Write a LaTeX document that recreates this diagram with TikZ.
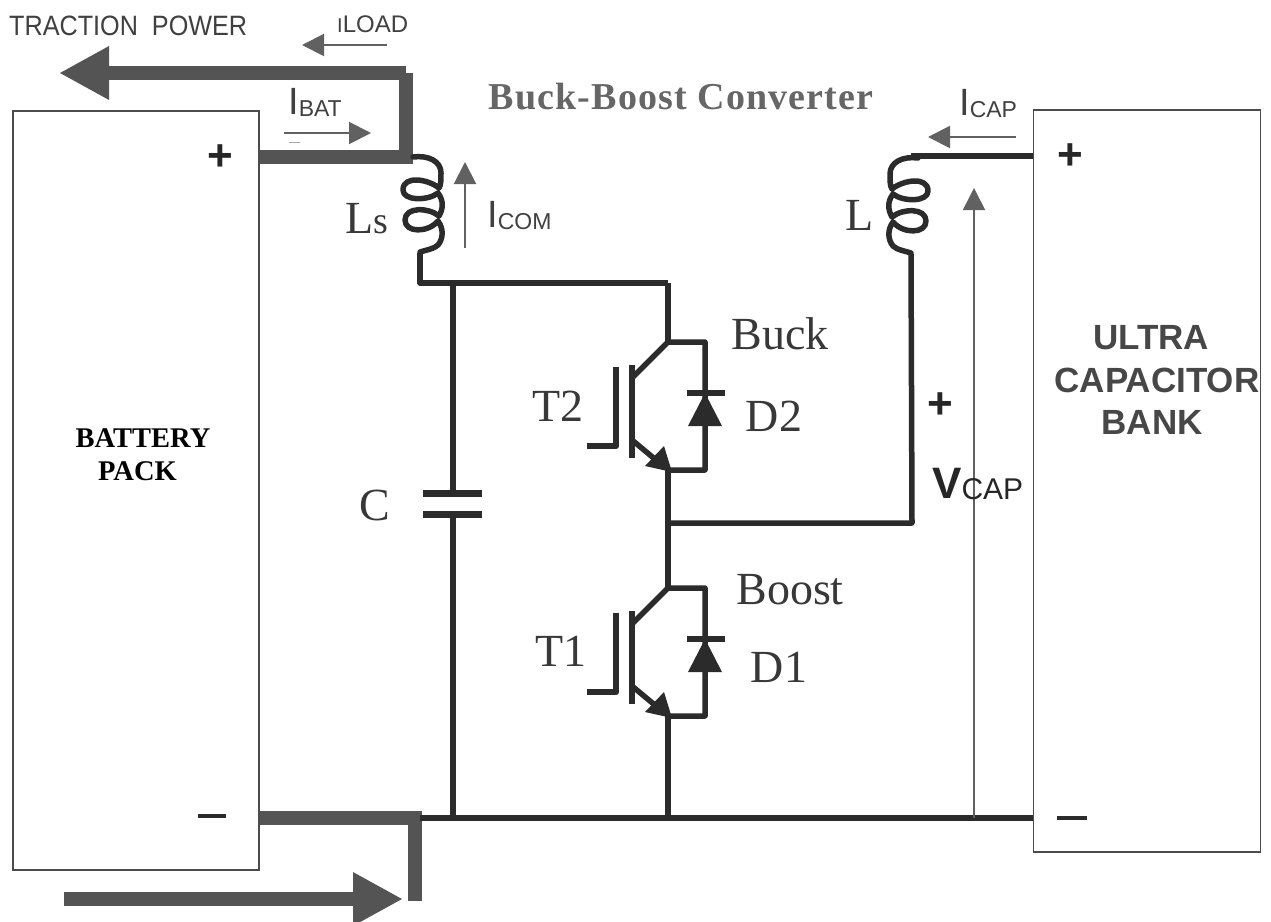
\documentclass[tikz,border=0pt]{standalone}
\usepackage{fontspec}
\setmainfont{Liberation Serif}
\setsansfont{Liberation Sans}
\usetikzlibrary{arrows.meta}
\definecolor{heavy}{gray}{0.33}
\definecolor{thin}{gray}{0.38}
\definecolor{wire}{gray}{0.17}
\newcommand{\fsz}[1]{\fontsize{#1}{#1}\selectfont}
\newcommand{\sublbl}[2]{{\fsz{38}#1}\raisebox{-2pt}{\fsz{23}#2}}
\tikzset{
  wireline/.style={draw=wire,line width=5.5pt,line join=round},
  boxnode/.style={draw=black!70,line width=1.1pt,fill=white,inner sep=0pt},
  heavyline/.style={draw=heavy,line width=14.5pt,line join=miter},
  bigarrow/.style={heavyline,-{Triangle[length=50pt,width=50pt]}},
  smallarrow/.style={draw=thin,line width=2pt,-{Triangle[length=22pt,width=22pt]}},
  serif/.style={text=black!78,font=\rmfamily\fsz{46},inner sep=0pt},
  sanslbl/.style={text=black!75,font=\sffamily,inner sep=0pt,anchor=base west},
  symb/.style={text=black!85,font=\sffamily\bfseries\fsz{44},inner sep=0pt},
  coilpath/.pic={
    \draw[wire,line width=5.5pt,line join=round,line cap=round]
      (-7,-96) .. controls (8,-98) and (21,-92) .. (21,-80)
      .. controls (21,-73) and (21,-68) .. (19,-65)
      .. controls (8,-74) and (-17,-78) .. (-17,-63)
      .. controls (-17,-52) and (8,-52) .. (18,-60)
      .. controls (24,-52) and (23,-44) .. (19,-37)
      .. controls (8,-46) and (-15,-46) .. (-15,-33)
      .. controls (-15,-20) and (8,-20) .. (18,-32)
      .. controls (24,-24) and (23,-14) .. (18,-8)
      .. controls (14,-4) and (6,-3) .. (0,-1);
  },
  igbt/.pic={
    \coordinate (-c) at (0,0);
    \coordinate (-e) at (0,128);
    \draw[wireline] (-36,23) -- (-36,116);
    \draw[wireline] (-36,36) -- (0,0) -- (37,0) -- (37,128) -- (0,128);
    \draw[wireline] (-36,98) -- (-12,118);
    \fill[wire] (-4,104) -- (-23,124) -- (4,130) -- cycle;
    \draw[wireline,line width=6.5pt] (-52,25) -- (-52,104) -- (-81,104);
    \draw[wireline] (19,51) -- (57,51);
    \fill[wire] (37,51) -- (20,84) -- (54,84) -- cycle;
  }
}
\begin{document}
\begin{tikzpicture}[x=1pt,y=-1pt]
\path[use as bounding box,fill=white] (0,0) rectangle (1271,921);

% boxes
\node[boxnode,minimum width=246pt,minimum height=759pt] (bat) at (136,490.5) {};
\node[boxnode,minimum width=227pt,minimum height=742pt] (cap) at (1147,481) {};

% coordinates
\coordinate (batp) at (bat.east |- 0,157);
\coordinate (batm) at (bat.east |- 0,818);
\coordinate (capp) at (cap.west |- 0,156);
\coordinate (capm) at (cap.west |- 0,818);
\coordinate (lsT) at (406,157);
\coordinate (lsB) at (420,253);
\coordinate (lT) at (911,156);
\coordinate (lB) at (911,254);
\coordinate (top) at (420,283);
\coordinate (bot) at (420,818);
\coordinate (busC) at (453,283);
\coordinate (gndC) at (453,818);
\coordinate (busT) at (668,283);
\coordinate (gndT) at (668,818);
\coordinate (capA) at (453,493);
\coordinate (capB) at (453,514);
\coordinate (capAl) at (423,493);
\coordinate (capAr) at (482,493);
\coordinate (capBl) at (423,514);
\coordinate (capBr) at (482,514);
\coordinate (mid) at (668,523);
\coordinate (midR) at (912,523);

% heavy power paths
\coordinate (loadC) at (406,73);
\coordinate (loadE) at (59,73);
\draw[heavyline] (batp) -- (lsT) -- (loadC);
\draw[bigarrow] (loadC) -- (loadE);
\coordinate (retC) at (415,818);
\coordinate (retE) at (415,901);
\draw[heavyline] (batm) -- (retC) -- (retE);
\coordinate (inA) at (64,899);
\coordinate (inB) at (403,899);
\draw[bigarrow] (inA) -- (inB);

% inductors
\pic at (lsB) {coilpath};
\pic[xscale=-1] at (lB) {coilpath};

% wiring
\draw[wireline] (lsB) -- (top) -- (busT);
\draw[wireline] (bot) -- (capm);
\draw[wireline] (busC) -- (capA);
\draw[wireline] (capB) -- (gndC);
\draw[wireline,line width=7pt] (capAl) -- (capAr);
\draw[wireline,line width=7pt] (capBl) -- (capBr);
\draw[wireline] (capp) -- (lT);
\draw[wireline] (lB) -- (midR) -- (mid);

% switches
\pic (T2) at (668,342) {igbt};
\pic (T1) at (668,588) {igbt};
\draw[wireline] (busT) -- (T2-c);
\draw[wireline] (T2-e) -- (T1-c);
\draw[wireline] (T1-e) -- (gndT);

% current and voltage arrows
\coordinate (iloadA) at (387,45);  \coordinate (iloadB) at (302,45);
\coordinate (ibatA) at (284,133);  \coordinate (ibatB) at (371,133);
\coordinate (icomA) at (465,248);  \coordinate (icomB) at (465,162);
\coordinate (icapA) at (1016,137); \coordinate (icapB) at (928,137);
\coordinate (vcapA) at (974,818);  \coordinate (vcapB) at (974,188);
\draw[smallarrow] (iloadA) -- (iloadB);
\draw[smallarrow] (ibatA) -- (ibatB);
\draw[smallarrow] (icomA) -- (icomB);
\draw[smallarrow] (icapA) -- (icapB);
\draw[smallarrow,line width=1.6pt] (vcapA) -- (vcapB);
\coordinate (dashA) at (289,142); \coordinate (dashB) at (300,142);
\draw[draw=black!35,line width=1pt] (dashA) -- (dashB);

% texts
\node[sanslbl] (t1) at (9,35) {\fsz{28}\addfontfeatures{FakeStretch=0.9}TRACTION\hspace{14pt}POWER};
\node[sanslbl] (t2) at (337,32) {{\fsz{20}I}{\fsz{24}LOAD}};
\node[sanslbl] (t3) at (288,114) {\sublbl{I}{BAT}};
\node[sanslbl] (t4) at (487,227) {\sublbl{I}{COM}};
\node[sanslbl] (t5) at (959,115) {\sublbl{I}{CAP}};
\node[text=black!60,font=\rmfamily\bfseries\fsz{38},inner sep=0pt] (t6) at (681,97) {\addfontfeatures{LetterSpace=3}Buck-Boost Converter};
\node[serif,anchor=base west] (t7) at (345,233) {L{\fsz{38}s}};
\node[serif] (t8) at (860,215) {L};
\node[serif] (t9) at (780,334) {Buck};
\node[serif] (t10) at (790,590) {Boost};
\node[serif] (t11) at (558,406) {T2};
\node[serif] (t12) at (561,651) {T1};
\node[serif] (t13) at (774,416) {D2};
\node[serif] (t14) at (779,667) {D1};
\node[serif] (t15) at (375,505) {C};
\node[text=black,font=\rmfamily\bfseries\fsz{28.5},inner sep=0pt] (t16) at (143,438) {BATTERY};
\node[text=black,font=\rmfamily\bfseries\fsz{28.5},inner sep=0pt] (t16b) at (137.5,471) {PACK};
\node[text=black!72,font=\sffamily\bfseries\fsz{35},inner sep=0pt] (t17a) at (1151,338) {ULTRA};
\node[text=black!72,font=\sffamily\bfseries\fsz{35},inner sep=0pt] (t17b) at (1157,380) {CAPACITOR};
\node[text=black!72,font=\sffamily\bfseries\fsz{35},inner sep=0pt] (t17c) at (1152,422) {BANK};
\node[sanslbl,text=black!85] (t18) at (932,498) {{\fsz{44}\bfseries V}\raisebox{-1pt}{\fsz{30}CAP}};
\node[symb] (p1) at (220,158) {+};
\node[symb] (p2) at (1070,157) {+};
\node[symb] (p3) at (940,406) {+};
\coordinate (mA) at (198,816); \coordinate (mB) at (226,816);
\coordinate (nA) at (1057,818); \coordinate (nB) at (1087,818);
\draw[wire,line width=4pt] (mA) -- (mB);
\draw[wire,line width=4pt] (nA) -- (nB);
\end{tikzpicture}
\end{document}
